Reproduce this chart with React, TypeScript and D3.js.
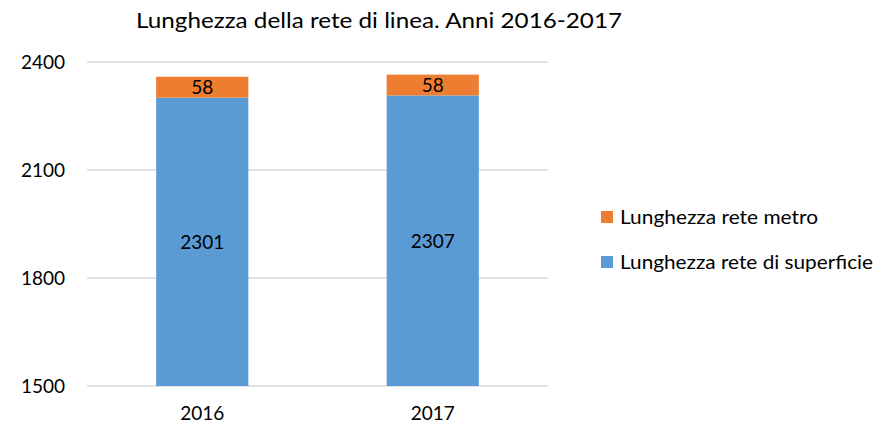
import React from "react";
import * as d3 from "d3";

const categories = ["2016", "2017"];
const superficie = [2301, 2307];
const metro = [58, 58];
const yTicks = [1500, 1800, 2100, 2400];
const seriesNames = ["Lunghezza rete metro", "Lunghezza rete di superficie"];
const legendWidths = [198, 253];
const title = "Lunghezza della rete di linea. Anni 2016-2017";

const W = 887, H = 425;
const FONT = "Lato, 'Open Sans', sans-serif";
const BLUE = "#5B9BD5", ORANGE = "#ED7D31";

export default function App() {
  const x = d3.scaleBand<string>().domain(categories).range([87, 548]).paddingInner(0.6).paddingOuter(0.3);
  const y = d3.scaleLinear().domain([1500, 2400]).range([386, 62]);
  const bw = x.bandwidth();
  return (
    <svg width={W} height={H} style={{ position: "absolute", left: 0, top: 0, background: "#fff" }} fontFamily={FONT}>
      <text x={379} y={28} textAnchor="middle" fontSize={22} fill="#000" textLength={486} lengthAdjust="spacingAndGlyphs">{title}</text>
      {yTicks.map((t) => (
        <g key={t}>
          <line x1={87} x2={548} y1={y(t)} y2={y(t)} stroke="#D9D9D9" strokeWidth={1.3} />
          <text x={65} y={y(t) + 7} textAnchor="end" fontSize={19} fill="#000">{t}</text>
        </g>
      ))}
      {categories.map((c, i) => {
        const x0 = x(c)!;
        const b = superficie[i];
        const m = metro[i];
        return (
          <g key={c}>
            <rect x={x0} y={y(b)} width={bw} height={y(1500) - y(b)} fill={BLUE} />
            <rect x={x0} y={y(b + m)} width={bw} height={y(b) - y(b + m)} fill={ORANGE} />
            <text x={x0 + bw / 2} y={(y(b) + y(1500)) / 2 + 7} textAnchor="middle" fontSize={19} fill="#000">{b}</text>
            <text x={x0 + bw / 2} y={(y(b + m) + y(b)) / 2 + 7} textAnchor="middle" fontSize={19} fill="#000">{m}</text>
            <text x={x0 + bw / 2} y={420} textAnchor="middle" fontSize={19} fill="#000">{c}</text>
          </g>
        );
      })}
      {seriesNames.map((s, i) => (
        <g key={s}>
          <rect x={601} y={211 + i * 45} width={12} height={12} fill={i === 0 ? ORANGE : BLUE} />
          <text x={620} y={224 + i * 45} fontSize={19} fill="#000" textLength={legendWidths[i]} lengthAdjust="spacingAndGlyphs">{s}</text>
        </g>
      ))}
    </svg>
  );
}
